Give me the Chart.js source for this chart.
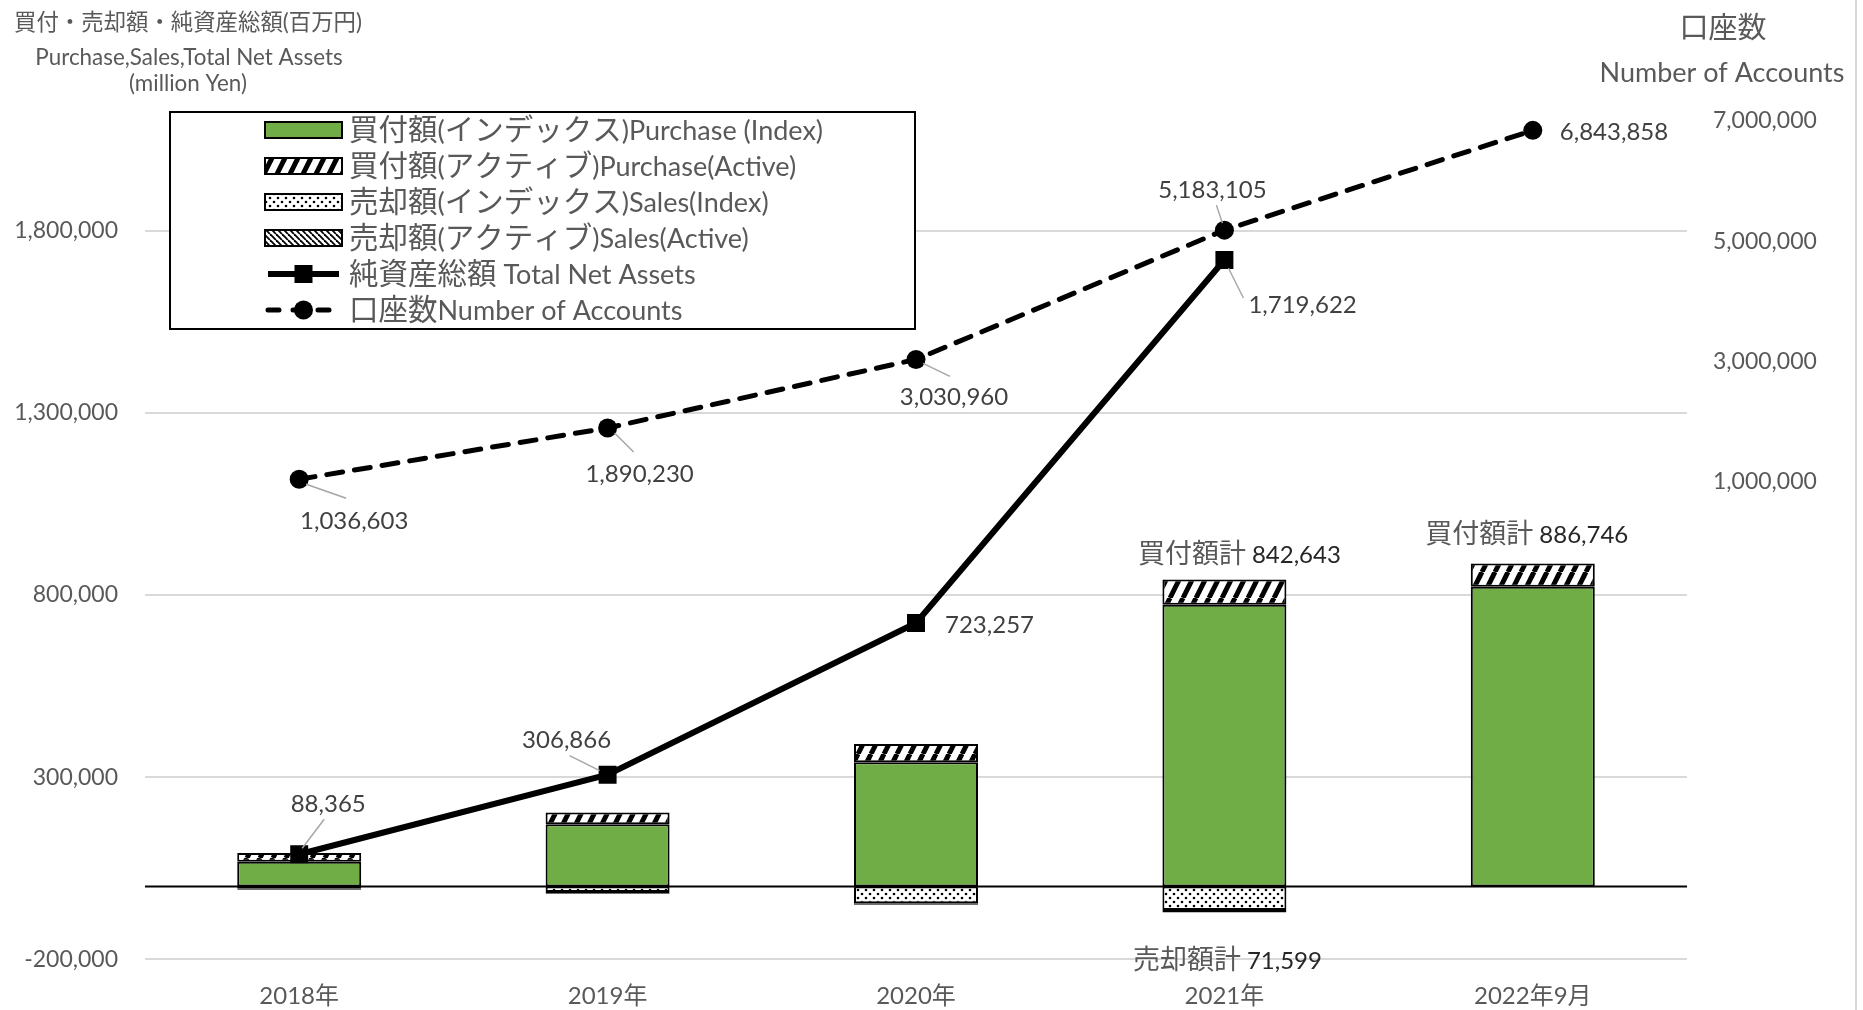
<!DOCTYPE html>
<html><head><meta charset="utf-8">
<script src="https://cdn.jsdelivr.net/npm/chart.js@4.4.0/dist/chart.umd.min.js"></script>
<style>html,body{margin:0;padding:0;background:#fff;}canvas{display:block;}</style>
</head><body>
<canvas id="c" width="1863" height="1010"></canvas>
<script>
// ---------- data ----------
const categories = ['2018年', '2019年', '2020年', '2021年', '2022年9月'];
const purchaseIndex = [68000, 171000, 341000, 773000, 823000];
const purchaseActive = [24000, 32000, 50000, 69643, 63746];
const salesIndex = [-5000, -15000, -46000, -64500, null];
const salesActive = [-4000, -5000, -4000, -7099, null];
const totalNetAssets = [88365, 306866, 723257, 1719622, null];
const accounts = [1036603, 1890230, 3030960, 5183105, 6843858];
const purchaseTotals = [null, null, null, 842643, 886746];
const salesTotals = [null, null, null, 71599, null];
const leftTicks = [-200000, 300000, 800000, 1300000, 1800000];
const rightTicks = [1000000, 3000000, 5000000, 7000000];
const seriesNames = [
  '買付額(インデックス)Purchase (Index)',
  '買付額(アクティブ)Purchase(Active)',
  '売却額(インデックス)Sales(Index)',
  '売却額(アクティブ)Sales(Active)',
  '純資産総額 Total Net Assets',
  '口座数Number of Accounts'
];
const leftTitle = ['買付・売却額・純資産総額(百万円)', 'Purchase,Sales,Total Net Assets', '(million Yen)'];
const rightTitle = ['口座数', 'Number of Accounts'];
const purchaseTotalPrefix = '買付額計 ';
const salesTotalPrefix = '売却額計 ';

// ---------- styling ----------
const LATIN = 'Lato, "Noto Sans CJK JP", sans-serif';
const CJKF = '"Noto Sans CJK JP", Lato, sans-serif';
const FONT = LATIN;
const GREY = '#595959';
const fmt = v => Math.round(v).toLocaleString('en-US');
const CJK_RE = /[\u3000-\u30ff\u3400-\u9fff\uff00-\uffef]/;

// draw text with CJK and Latin runs at separate sizes; y is visual centre
function drawMixed(ctx, text, x, y, latinSize, cjkSize, align, color) {
  const runs = [];
  for (const ch of text) {
    const c = CJK_RE.test(ch);
    if (runs.length && runs[runs.length - 1].c === c) runs[runs.length - 1].t += ch;
    else runs.push({t: ch, c});
  }
  let total = 0;
  runs.forEach(r => {
    ctx.font = (r.c ? cjkSize + 'px ' + CJKF : latinSize + 'px ' + LATIN);
    r.w = ctx.measureText(r.t).width; total += r.w;
  });
  let sx = align === 'center' ? x - total / 2 : align === 'right' ? x - total : x;
  ctx.textAlign = 'left'; ctx.textBaseline = 'alphabetic';
  if (color) ctx.fillStyle = color;
  const base = y + latinSize * 0.36;
  runs.forEach(r => {
    ctx.font = (r.c ? cjkSize + 'px ' + CJKF : latinSize + 'px ' + LATIN);
    ctx.fillText(r.t, sx, base); sx += r.w;
  });
  return total;
}

function makePattern(kind) {
  const c = document.createElement('canvas');
  const x = c.getContext('2d');
  if (kind === 'wide') {
    c.width = 13; c.height = 26;
    x.fillStyle = '#fff'; x.fillRect(0, 0, 13, 26);
    x.strokeStyle = '#000'; x.lineWidth = 5;
    for (const k of [-13, 0, 13]) { x.beginPath(); x.moveTo(k, 26); x.lineTo(k + 13, 0); x.stroke(); }
  } else if (kind === 'dots') {
    c.width = 8; c.height = 8;
    x.fillStyle = '#fff'; x.fillRect(0, 0, 8, 8);
    x.fillStyle = '#000';
    for (const [px, py] of [[2, 2], [6, 6]]) { x.beginPath(); x.arc(px, py, 1.3, 0, Math.PI * 2); x.fill(); }
  } else {
    c.width = 6; c.height = 6;
    x.fillStyle = '#fff'; x.fillRect(0, 0, 6, 6);
    x.strokeStyle = '#000'; x.lineWidth = 1.8;
    for (const k of [-6, 0, 6]) { x.beginPath(); x.moveTo(k, 0); x.lineTo(k + 6, 6); x.stroke(); }
  }
  return x.createPattern(c, 'repeat');
}
const patWide = makePattern('wide');
const patDots = makePattern('dots');
const patNarrow = makePattern('narrow');

// label placement relative to points
const netLabelPos = [
  {dx: 29, dy: -50, align: 'center', lead: [3, -6, 25, -35]},
  {dx: -41, dy: -34, align: 'center', lead: [-8, -4, -38, -19]},
  {dx: 29, dy: 2, align: 'left', lead: null},
  {dx: 24, dy: 45, align: 'left', lead: [4, 8, 19, 38]}
];
const accLabelPos = [
  {dx: 55, dy: 42, align: 'center', lead: [7, 5, 47, 19]},
  {dx: 32, dy: 46, align: 'center', lead: [7, 5, 26, 24]},
  {dx: 38, dy: 38, align: 'center', lead: [7, 4, 34, 17]},
  {dx: -12, dy: -40, align: 'center', lead: [-2, -7, -8, -25]},
  {dx: 27, dy: 2, align: 'left', lead: null}
];

const decorPlugin = {
  id: 'decor',
  beforeDatasetsDraw(chart) {
    const {ctx, chartArea, scales} = chart;
    const y0 = scales.y.getPixelForValue(0);
    ctx.save();
    ctx.strokeStyle = '#000'; ctx.lineWidth = 2;
    ctx.beginPath(); ctx.moveTo(chartArea.left, y0); ctx.lineTo(chartArea.right, y0); ctx.stroke();
    ctx.restore();
  },
  afterDraw(chart) {
    const {ctx} = chart;
    ctx.save();
    // right frame line
    ctx.strokeStyle = '#d9d9d9'; ctx.lineWidth = 2;
    ctx.beginPath(); ctx.moveTo(1856, 0); ctx.lineTo(1856, 1010); ctx.stroke();

    // titles
    drawMixed(ctx, leftTitle[0], 188, 22, 22.4, 22.4, 'center', GREY);
    drawMixed(ctx, leftTitle[1], 189, 57, 22.4, 22.4, 'center', GREY);
    drawMixed(ctx, leftTitle[2], 188, 83, 22.4, 22.4, 'center', GREY);
    drawMixed(ctx, rightTitle[0], 1723, 28, 27, 29, 'center', GREY);
    drawMixed(ctx, rightTitle[1], 1722, 72, 27, 29, 'center', GREY);

    // data labels for lines
    const drawLabels = (dsIndex, values, pos) => {
      const meta = chart.getDatasetMeta(dsIndex);
      values.forEach((v, i) => {
        if (v == null || !pos[i]) return;
        const p = meta.data[i];
        const o = pos[i];
        if (o.lead) {
          ctx.strokeStyle = '#a6a6a6'; ctx.lineWidth = 1.5;
          ctx.beginPath();
          ctx.moveTo(p.x + o.lead[0], p.y + o.lead[1]);
          ctx.lineTo(p.x + o.lead[2], p.y + o.lead[3]);
          ctx.stroke();
        }
        ctx.fillStyle = '#404040'; ctx.font = '24px ' + FONT;
        ctx.textAlign = o.align; ctx.textBaseline = 'middle';
        ctx.fillText(fmt(v), p.x + o.dx, p.y + o.dy);
      });
    };
    drawLabels(4, totalNetAssets, netLabelPos);
    drawLabels(5, accounts, accLabelPos);

    // bar total labels
    const twoPart = (prefix, num, cx, cy) => {
      ctx.font = '27px ' + CJKF;
      const w1 = ctx.measureText(prefix.trim()).width + 6;
      ctx.font = '24px ' + LATIN;
      const w2 = ctx.measureText(num).width;
      const sx = cx - (w1 + w2) / 2;
      drawMixed(ctx, prefix.trim(), sx, cy, 24, 27, 'left', GREY);
      drawMixed(ctx, num, sx + w1, cy, 24, 27, 'left', '#262626');
    };
    const topMeta = chart.getDatasetMeta(1);
    const purchaseTotalPos = [null, null, null, {dx: 15, dy: -25}, {dx: -6, dy: -29}];
    purchaseTotals.forEach((v, i) => {
      if (v == null) return;
      const el = topMeta.data[i];
      twoPart(purchaseTotalPrefix, fmt(v), el.x + purchaseTotalPos[i].dx, el.y + purchaseTotalPos[i].dy);
    });
    const botMeta = chart.getDatasetMeta(3);
    salesTotals.forEach((v, i) => {
      if (v == null) return;
      const el = botMeta.data[i];
      twoPart(salesTotalPrefix, fmt(v), el.x + 3, el.y + 48);
    });

    // legend
    const L = {x: 170, y: 112, w: 745, h: 217};
    ctx.fillStyle = '#fff'; ctx.fillRect(L.x, L.y, L.w, L.h);
    ctx.strokeStyle = '#000'; ctx.lineWidth = 2; ctx.strokeRect(L.x, L.y, L.w, L.h);
    chart.data.datasets.forEach((ds, i) => {
      const cy = 130 + i * 36;
      const ix = 265, iw = 77;
      if (ds.type === 'line') {
        ctx.strokeStyle = '#000'; ctx.lineWidth = ds.borderWidth;
        ctx.lineCap = ds.borderCapStyle || 'butt';
        ctx.setLineDash(ds.borderDash ? [11, 14] : []);
        ctx.beginPath(); ctx.moveTo(ix + 3, cy); ctx.lineTo(ix + iw - 3, cy); ctx.stroke();
        ctx.setLineDash([]); ctx.lineCap = 'butt';
        ctx.fillStyle = '#000';
        const mx = ix + iw / 2;
        if (ds.pointStyle === 'rect') ctx.fillRect(mx - 9, cy - 9, 18, 18);
        else { ctx.beginPath(); ctx.arc(mx, cy, 9.5, 0, Math.PI * 2); ctx.fill(); }
      } else {
        ctx.fillStyle = ds.backgroundColor; ctx.fillRect(ix, cy - 8, iw, 16);
        ctx.strokeStyle = '#000'; ctx.lineWidth = 2; ctx.strokeRect(ix, cy - 8, iw, 16);
      }
      drawMixed(ctx, ds.label, 349, cy, 27, 29.5, 'left', GREY);
    });
    ctx.restore();
  }
};

const barCommon = {type: 'bar', stack: 'flow', borderColor: '#000', borderWidth: 2, borderSkipped: false,
  barPercentage: 0.402, categoryPercentage: 1, yAxisID: 'y', order: 2};

new Chart(document.getElementById('c'), {
  data: {
    labels: categories,
    datasets: [
      {...barCommon, label: seriesNames[0], data: purchaseIndex, backgroundColor: '#70ad47'},
      {...barCommon, label: seriesNames[1], data: purchaseActive, backgroundColor: patWide},
      {...barCommon, label: seriesNames[2], data: salesIndex, backgroundColor: patDots},
      {...barCommon, label: seriesNames[3], data: salesActive, backgroundColor: patNarrow},
      {type: 'line', label: seriesNames[4], data: totalNetAssets, yAxisID: 'y', order: 1,
        borderColor: '#000', backgroundColor: '#000', borderWidth: 6, tension: 0,
        pointStyle: 'rect', pointRadius: 12.7, pointBackgroundColor: '#000', pointBorderColor: '#000', pointBorderWidth: 0},
      {type: 'line', label: seriesNames[5], data: accounts, yAxisID: 'y2', order: 0,
        borderColor: '#000', backgroundColor: '#000', borderWidth: 5, tension: 0,
        borderDash: [16, 12], borderCapStyle: 'round',
        pointStyle: 'circle', pointRadius: 9.5, pointBackgroundColor: '#000', pointBorderColor: '#000', pointBorderWidth: 0}
    ]
  },
  options: {
    responsive: false, animation: false, devicePixelRatio: 1,
    layout: {padding: {top: 48.6, left: 0, right: 0, bottom: 0}},
    plugins: {legend: {display: false}, tooltip: {enabled: false}},
    scales: {
      x: {stacked: true, grid: {display: false}, border: {display: false},
        ticks: {color: GREY, font: {family: FONT, size: 24}, padding: 15, maxRotation: 0},
        afterFit: s => { s.height = 50.7; }},
      y: {stacked: true, position: 'left', min: -200000, max: 2300000,
        grid: {color: '#d9d9d9', lineWidth: 2, drawTicks: false}, border: {display: false},
        ticks: {color: GREY, font: {family: FONT, size: 23}, padding: 27, callback: v => fmt(v)},
        afterBuildTicks: s => { s.ticks = leftTicks.map(v => ({value: v})); },
        afterFit: s => { s.width = 145; }},
      y2: {position: 'right', min: -6955000, max: 8205000,
        grid: {display: false, drawTicks: false}, border: {display: false},
        ticks: {color: GREY, font: {family: FONT, size: 23}, padding: 26, callback: v => fmt(v)},
        afterBuildTicks: s => { s.ticks = rightTicks.map(v => ({value: v})); },
        afterFit: s => { s.width = 176; }}
    }
  },
  plugins: [decorPlugin]
});
</script>
</body></html>
